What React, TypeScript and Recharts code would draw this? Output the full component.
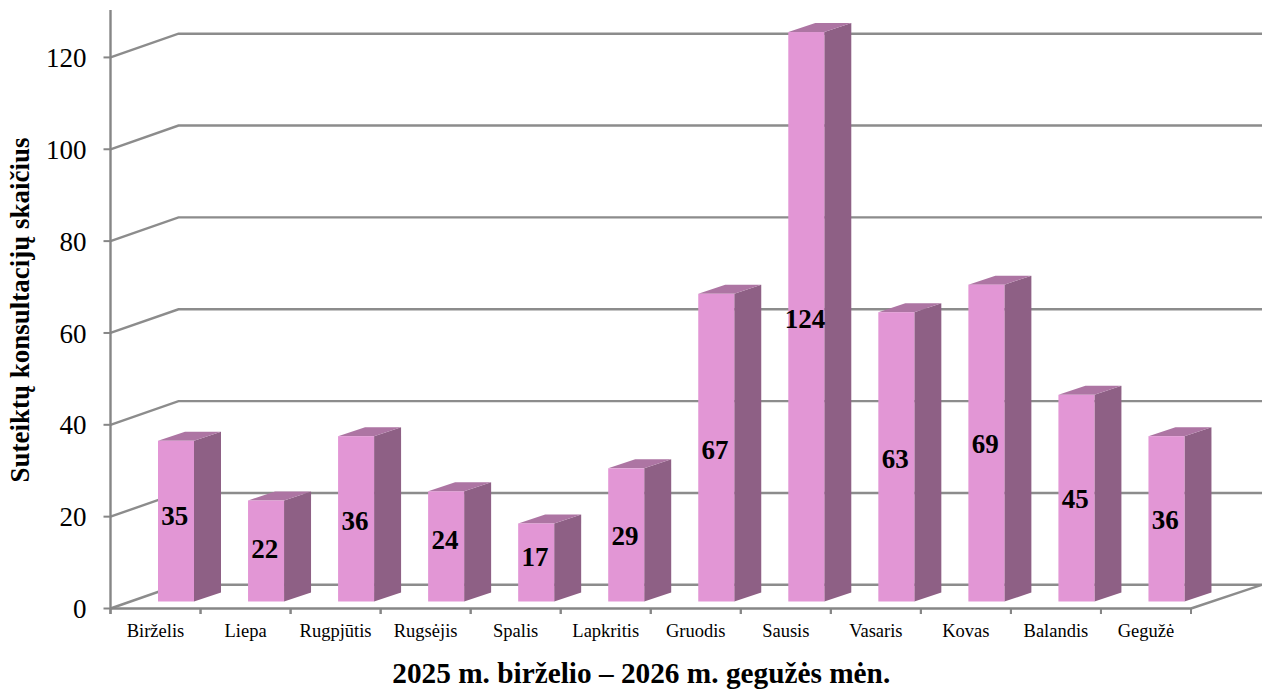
import { BarChart, Bar, XAxis, YAxis, CartesianGrid, LabelList, ReferenceLine } from "recharts";

const months = ["Birželis", "Liepa", "Rugpjūtis", "Rugsėjis", "Spalis", "Lapkritis", "Gruodis", "Sausis", "Vasaris", "Kovas", "Balandis", "Gegužė"];
const consultations = [35, 22, 36, 24, 17, 29, 67, 124, 63, 69, 45, 36];
const yTicks = [0, 20, 40, 60, 80, 100, 120];

const data = months.map((month, i) => ({ month, value: consultations[i] }));

const SERIF = "'Liberation Serif', 'Times New Roman', serif";
const GREY = "#8c8c8c";
const AXIS_GREY = "#868686";

// fake 3D: the walls and bars are offset from the real plot area
const WALL_DX = 68;
const WALL_DY = 23.7;
const BAR_DX = 20.5;
const BAR_LIFT = 7;
const DEPTH_X = 27;
const DEPTH_Y = 9;
const BAND = 90.04;

// the labels in the original were not all placed dead centre on the bar
const LABEL_NUDGE = [-5, -2, 2, -6, -5, 1, 2, 2, 2, 1, 1, 1];

function Box3D({ x, y, width, height }: any) {
  const l = x + BAR_DX;
  const r = l + width;
  const t = y - BAR_LIFT;
  const b = t + height;
  return (
    <g>
      <polygon points={`${r},${t} ${r + DEPTH_X},${t - DEPTH_Y} ${r + DEPTH_X},${b - DEPTH_Y} ${r},${b}`} fill="#8e6085" />
      <polygon points={`${l},${t} ${l + DEPTH_X},${t - DEPTH_Y} ${r + DEPTH_X},${t - DEPTH_Y} ${r},${t}`} fill="#ad75a3" />
      <rect x={l} y={t} width={width} height={height} fill="#e296d5" />
    </g>
  );
}

function WallLine({ x1, y1, x2, index }: any) {
  // recharts also hands over the domain top (130), which has no gridline in the original
  if (y1 < 20) return null;
  const isFloor = Math.abs(y1 - 608.5) < 1;
  const backY = y1 - WALL_DY;
  const right = 1262;
  const d = `M${x1},${y1} L${x1 + WALL_DX},${backY} L${right},${backY}` + (isFloor ? ` L${x2},${y1}` : "");
  return <path key={index} d={d} fill="none" stroke={GREY} strokeWidth={2.4} />;
}

function MonthTick({ x, y, payload }: any) {
  return (
    <g>
      <line x1={x - BAND / 2} y1={y - 8} x2={x - BAND / 2} y2={y - 2.5} stroke={AXIS_GREY} strokeWidth={2} />
      <line x1={x + BAND / 2} y1={y - 8} x2={x + BAND / 2} y2={y - 2.5} stroke={AXIS_GREY} strokeWidth={2} />
      <text x={x} y={y + 20.5} textAnchor="middle" fontFamily={SERIF} fontSize={18.5} fill="#000">
        {payload.value}
      </text>
    </g>
  );
}

function ValueLabel({ x, y, width, height, value, index }: any) {
  return (
    <text
      x={x + BAR_DX + width / 2 - 1.2}
      y={y - BAR_LIFT + height / 2 + LABEL_NUDGE[index]}
      textAnchor="middle"
      dominantBaseline="central"
      fontFamily={SERIF}
      fontSize={27}
      fontWeight="bold"
      fill="#000"
    >
      {value}
    </text>
  );
}

export default function App() {
  return (
    <div style={{ position: "absolute", left: 0, top: 0, width: 1262, height: 689, background: "#fff" }}>
      <BarChart width={1262} height={689} data={data} margin={{ top: 11.5, right: 71, bottom: 0, left: 0 }}>
        <CartesianGrid vertical={false} horizontal={(props: any) => <WallLine {...props} />} />
        <XAxis
          dataKey="month"
          height={80.5}
          interval={0}
          axisLine={{ stroke: AXIS_GREY, strokeWidth: 2.4 }}
          tickLine={false}
          tick={<MonthTick />}
          label={{
            value: "2025 m. birželio – 2026 m. gegužės mėn.",
            position: "insideBottom",
            offset: 6,
            dx: -9.5,
            style: { fontFamily: SERIF, fontSize: 29.3, fontWeight: "bold", fill: "#000" },
          }}
        />
        <YAxis
          width={110.5}
          domain={[0, 130]}
          ticks={yTicks}
          interval={0}
          axisLine={false}
          tickLine={{ stroke: AXIS_GREY, strokeWidth: 2 }}
          tickSize={7}
          tickMargin={17}
          tick={{ fontFamily: SERIF, fontSize: 27, fill: "#000" }}
          label={{
            value: "Suteiktų konsultacijų skaičius",
            angle: -90,
            position: "insideLeft",
            offset: 0,
            dx: 19,
            style: { fontFamily: SERIF, fontSize: 27, fontWeight: "bold", fill: "#000", textAnchor: "middle" },
          }}
        />
        <ReferenceLine
          y={0}
          stroke="none"
          shape={(p: any) => (
            <line x1={p.x1} y1={10} x2={p.x1} y2={614} stroke={AXIS_GREY} strokeWidth={2.4} />
          )}
        />
        <Bar dataKey="value" barSize={36} shape={<Box3D />} isAnimationActive={false}>
          <LabelList dataKey="value" content={<ValueLabel />} />
        </Bar>
      </BarChart>
    </div>
  );
}
